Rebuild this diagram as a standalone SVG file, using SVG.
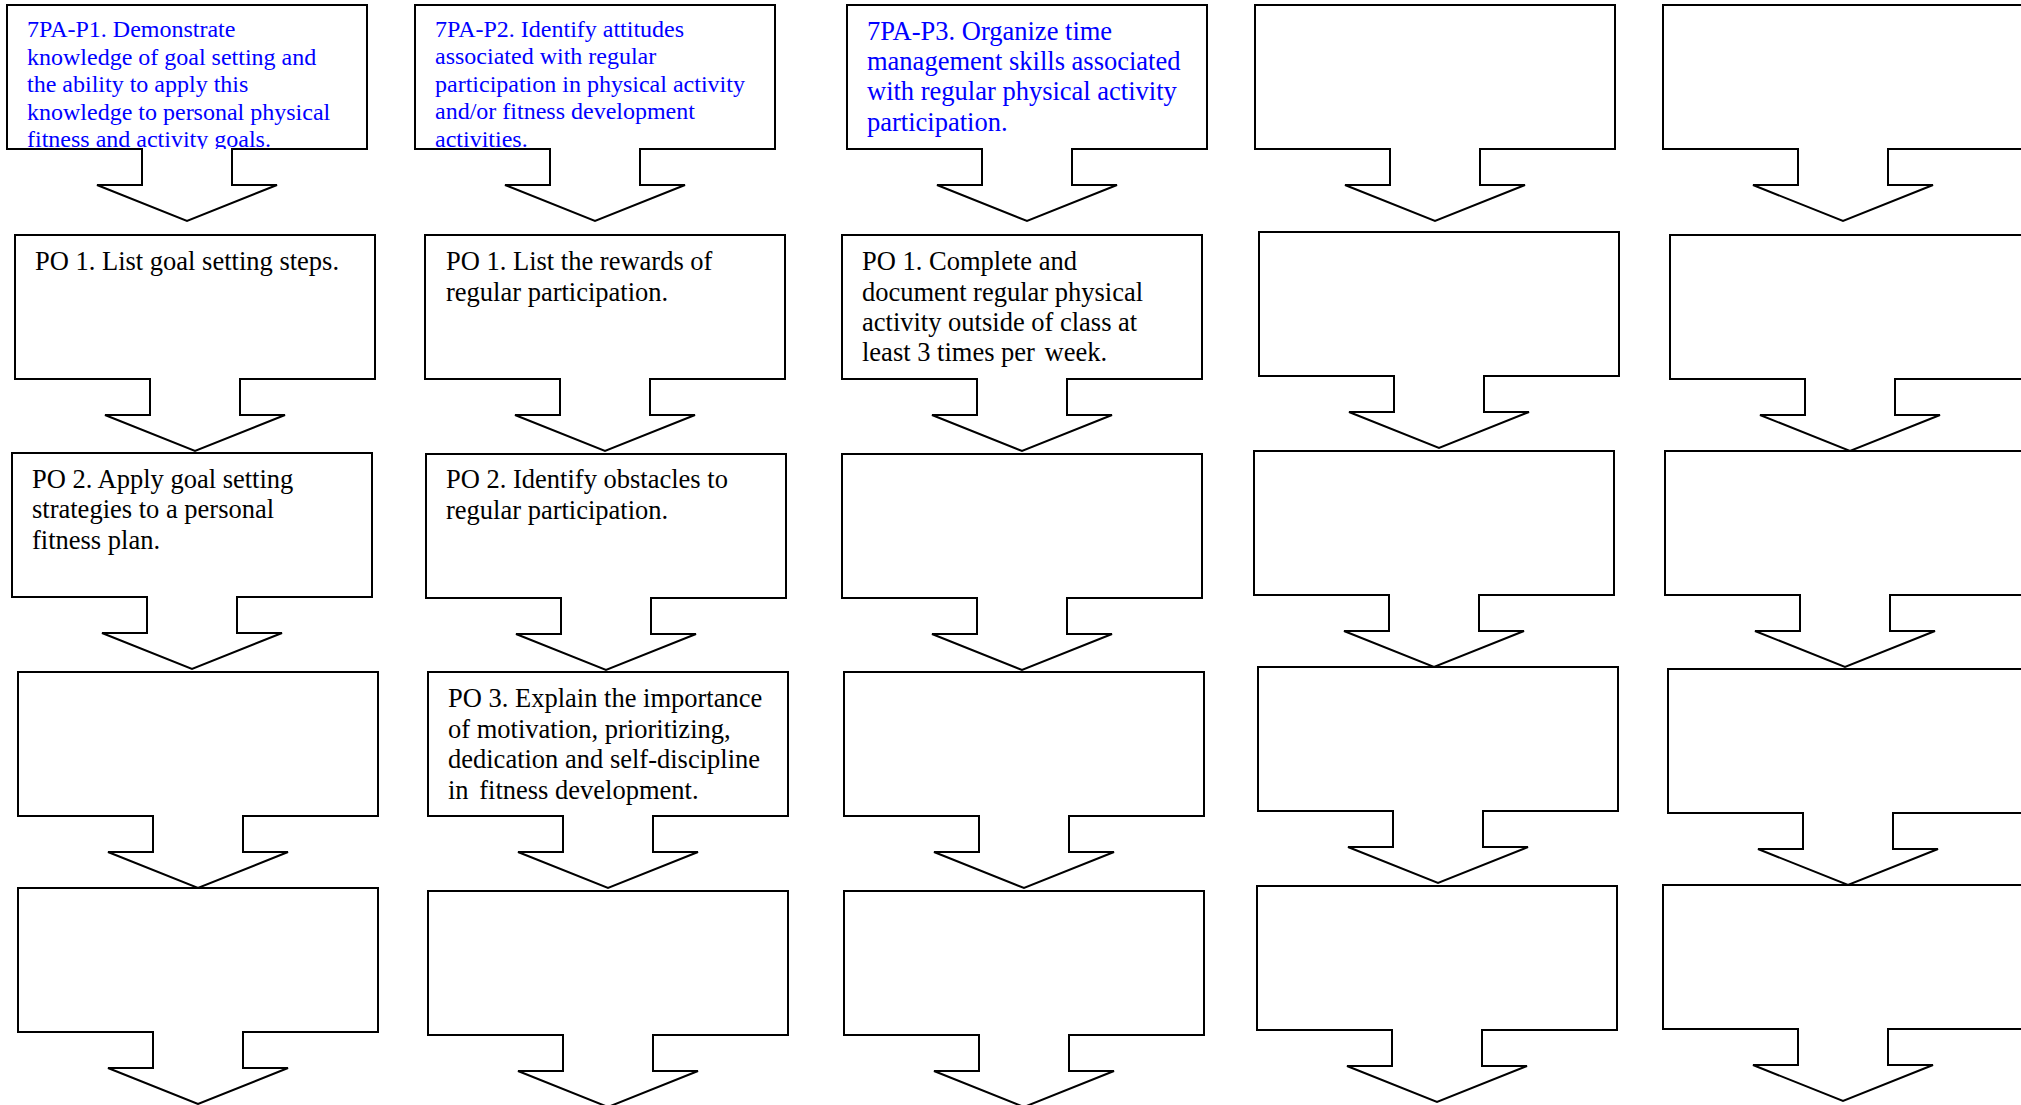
<svg xmlns="http://www.w3.org/2000/svg" xmlns:xlink="http://www.w3.org/1999/xlink" width="2021" height="1105" viewBox="0 0 2021 1105">
<style>
.shape{fill:#ffffff;stroke:#000000;stroke-width:2;stroke-linejoin:miter}
.obj{font-family:"Liberation Serif","Times New Roman",serif;font-size:24px;fill:#0000ff}
.obj3{font-family:"Liberation Serif","Times New Roman",serif;font-size:26.5px;fill:#0000ff}
.po{font-family:"Liberation Serif","Times New Roman",serif;font-size:26.5px;fill:#000000}
</style>
<defs>
<path id="callout" d="M-180,0 H180 V144 H45 V180 H90 L0,216 L-90,180 H-45 V144 H-180 Z"/>
<clipPath id="clipP1"><rect x="8" y="6" width="358" height="143"/></clipPath>
<clipPath id="clipP2"><rect x="416" y="6" width="358" height="143"/></clipPath>
</defs>
<rect width="2021" height="1105" fill="#ffffff"/>
<g id="connectors"></g>

<!-- Column 1 -->
<g id="c1r1"><use xlink:href="#callout" href="#callout" class="shape" x="187" y="5"/>
<g clip-path="url(#clipP1)"><text class="obj" x="27" y="37">7PA-P1. Demonstrate</text>
<text class="obj" x="27" y="65">knowledge of goal setting and</text>
<text class="obj" x="27" y="92">the ability to apply this</text>
<text class="obj" x="27" y="120">knowledge to personal physical</text>
<text class="obj" x="27" y="147">fitness and activity goals.</text></g></g>
<g id="c1r2"><use href="#callout" class="shape" x="195" y="235"/>
<text class="po" x="35" y="270">PO 1. List goal setting steps.</text></g>
<g id="c1r3"><use href="#callout" class="shape" x="192" y="453"/>
<text class="po" x="32" y="488">PO 2. Apply goal setting</text>
<text class="po" x="32" y="518">strategies to a personal</text>
<text class="po" x="32" y="549">fitness plan.</text></g>
<g id="c1r4"><use href="#callout" class="shape" x="198" y="672"/></g>
<g id="c1r5"><use href="#callout" class="shape" x="198" y="888"/></g>

<!-- Column 2 -->
<g id="c2r1"><use href="#callout" class="shape" x="595" y="5"/>
<g clip-path="url(#clipP2)"><text class="obj" x="435" y="37">7PA-P2. Identify attitudes</text>
<text class="obj" x="435" y="64">associated with regular</text>
<text class="obj" x="435" y="92">participation in physical activity</text>
<text class="obj" x="435" y="119">and/or fitness development</text>
<text class="obj" x="435" y="147">activities.</text></g></g>
<g id="c2r2"><use href="#callout" class="shape" x="605" y="235"/>
<text class="po" x="446" y="270">PO 1. List the rewards of</text>
<text class="po" x="446" y="301">regular participation.</text></g>
<g id="c2r3"><use href="#callout" class="shape" x="606" y="454"/>
<text class="po" x="446" y="488">PO 2. Identify obstacles to</text>
<text class="po" x="446" y="519">regular participation.</text></g>
<g id="c2r4"><use href="#callout" class="shape" x="608" y="672"/>
<text class="po" x="448" y="707">PO 3. Explain the importance</text>
<text class="po" x="448" y="738">of motivation, prioritizing,</text>
<text class="po" x="448" y="768">dedication and self-discipline</text>
<text class="po" x="448" y="799">in <tspan dx="4">fitness development.</tspan></text></g>
<g id="c2r5"><use href="#callout" class="shape" x="608" y="891"/></g>

<!-- Column 3 -->
<g id="c3r1"><use href="#callout" class="shape" x="1027" y="5"/>
<text class="obj3" x="867" y="40">7PA-P3. Organize time</text>
<text class="obj3" x="867" y="70">management skills associated</text>
<text class="obj3" x="867" y="100">with regular physical activity</text>
<text class="obj3" x="867" y="131">participation.</text></g>
<g id="c3r2"><use href="#callout" class="shape" x="1022" y="235"/>
<text class="po" x="862" y="270">PO 1. Complete and</text>
<text class="po" x="862" y="301">document regular physical</text>
<text class="po" x="862" y="331">activity outside of class at</text>
<text class="po" x="862" y="361">least 3 times per <tspan dx="3">week.</tspan></text></g>
<g id="c3r3"><use href="#callout" class="shape" x="1022" y="454"/></g>
<g id="c3r4"><use href="#callout" class="shape" x="1024" y="672"/></g>
<g id="c3r5"><use href="#callout" class="shape" x="1024" y="891"/></g>

<!-- Column 4 -->
<g id="c4r1"><use href="#callout" class="shape" x="1435" y="5"/></g>
<g id="c4r2"><use href="#callout" class="shape" x="1439" y="232"/></g>
<g id="c4r3"><use href="#callout" class="shape" x="1434" y="451"/></g>
<g id="c4r4"><use href="#callout" class="shape" x="1438" y="667"/></g>
<g id="c4r5"><use href="#callout" class="shape" x="1437" y="886"/></g>

<!-- Column 5 -->
<g id="c5r1"><use href="#callout" class="shape" x="1843" y="5"/></g>
<g id="c5r2"><use href="#callout" class="shape" x="1850" y="235"/></g>
<g id="c5r3"><use href="#callout" class="shape" x="1845" y="451"/></g>
<g id="c5r4"><use href="#callout" class="shape" x="1848" y="669"/></g>
<g id="c5r5"><use href="#callout" class="shape" x="1843" y="885"/></g>
</svg>
